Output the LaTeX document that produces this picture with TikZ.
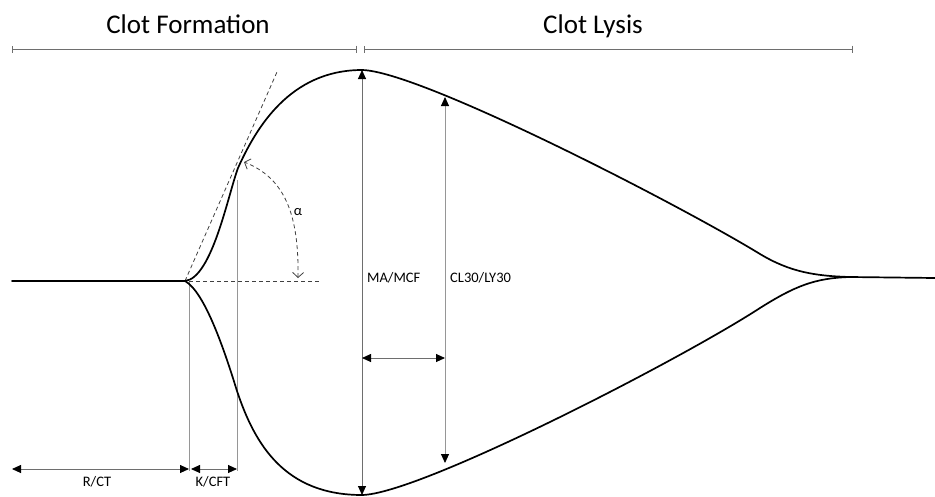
\documentclass[tikz,border=0pt]{standalone}
\usepackage{fontspec}
\setmainfont{Carlito}
\usetikzlibrary{arrows.meta}
\definecolor{axisgray}{RGB}{110,110,110}
\definecolor{lightgray2}{RGB}{150,150,150}
\tikzset{
  curve/.style={line width=1.7pt, black, line cap=round, line join=round},
  thinline/.style={line width=0.8pt, lightgray2},
  measure/.style={line width=0.9pt, axisgray, {Triangle[length=9pt,width=8pt,black]}-{Triangle[length=9pt,width=8pt,black]}},
  phasebar/.style={line width=1pt, axisgray, {Bar[width=7pt]}-{Bar[width=7pt]}},
  dashline/.style={line width=0.8pt, black!75, dash pattern=on 4pt off 3pt},
  lbl/.style={font=\fontsize{14.5}{16}\selectfont, inner sep=0pt},
  title/.style={font=\fontsize{27}{30}\selectfont, inner sep=0pt, anchor=base}
}
\begin{document}
\begin{tikzpicture}[x=1pt,y=-1pt]
\useasboundingbox (0,0) rectangle (935,496);
% key points
\coordinate (start) at (12,281);
\coordinate (R) at (185,281);
\coordinate (infU) at (238,168);
\coordinate (top) at (362,70);
\coordinate (midU) at (760,254);
\coordinate (infL) at (237,391);
\coordinate (bot) at (362,495);
\coordinate (midL) at (760,308);
\coordinate (join) at (850,277);
\coordinate (endp) at (935,278);

% titles and phase bars
\node[title] (tform) at (188,33) {Clot Formation};
\node[title] (tlys) at (593,33) {Clot Lysis};
\coordinate (b1a) at (12,49);
\coordinate (b1b) at (357,49);
\coordinate (b2a) at (364,49);
\coordinate (b2b) at (853,49);
\draw[phasebar] (b1a) -- (b1b);
\draw[phasebar] (b2a) -- (b2b);

% thin vertical guide lines
\coordinate (v1t) at (189,281);
\coordinate (v1b) at (189,471);
\coordinate (v2t) at (237,180);
\coordinate (v2b) at (237,471);
\draw[thinline] (v1t) -- (v1b);
\draw[thinline] (v2t) -- (v2b);

% dashed tangent and horizontal reference
\coordinate (tanend) at (277,72);
\coordinate (hend) at (320,281);
\draw[dashline] (R) -- (tanend);
\draw[dashline] (v1t) -- (hend);

% angle arc
\coordinate (arcA) at (298,278);
\coordinate (arcB) at (244,162);
\draw[dashline, {Straight Barb[length=5pt,width=11pt]}-{Straight Barb[length=5pt,width=11pt]}]
  (arcA) .. controls (299,215) and (285,178) .. (arcB);
\node[lbl] (alpha) at (298,212) {α};

% TEG trace
\draw[curve] (start) -- (R)
  .. controls (212,278) and (228,195) .. (infU)
  .. controls (256,128) and (290,70) .. (top)
  .. controls (420,71) and (680,205) .. (midU)
  .. controls (790,272) and (815,276) .. (join) -- (endp);
\draw[curve] (R)
  .. controls (205,292) and (225,352) .. (infL)
  .. controls (255,445) and (285,495) .. (bot)
  .. controls (420,494) and (680,360) .. (midL)
  .. controls (795,286) and (815,278) .. (join);

% measurement arrows
\coordinate (cla) at (445,97);
\coordinate (clb) at (445,463);
\coordinate (ha) at (362,358);
\coordinate (hb) at (445,358);
\draw[measure] (top) -- (bot);
\draw[measure, lightgray2] (cla) -- (clb);
\draw[measure] (ha) -- (hb);

\coordinate (ra) at (12,469);
\coordinate (rb) at (189,469);
\coordinate (ka) at (191,469);
\coordinate (kb) at (237,469);
\draw[measure] (ra) -- (rb);
\draw[measure] (ka) -- (kb);

% labels
\node[lbl, anchor=west] (ma) at (367,278) {MA/MCF};
\node[lbl, anchor=west] (cl) at (450,278) {CL30/LY30};
\node[lbl] (rct) at (97,482) {R/CT};
\node[lbl] (kcft) at (213,482) {K/CFT};
\end{tikzpicture}
\end{document}
